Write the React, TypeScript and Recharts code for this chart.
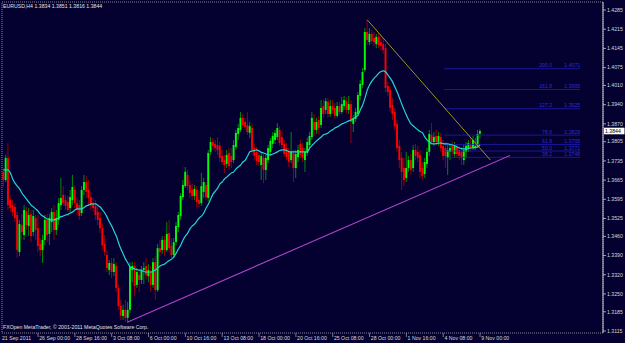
import React from "react";
import { ComposedChart, Bar, Line, XAxis, YAxis, ReferenceLine, ReferenceArea } from "recharts";

// EURUSD H4, 21 Sep 2011 12:00 .. 9 Nov 2011 00:00 (208 bars)
const opens = [
  1.3695, 1.3665, 1.3746, 1.3592, 1.3574, 1.3567, 1.3538, 1.3403, 1.3501, 1.3465,
  1.3552, 1.3498, 1.3541, 1.3476, 1.3527, 1.3490, 1.3432, 1.3410, 1.3447, 1.3520,
  1.3469, 1.3512, 1.3549, 1.3483, 1.3520, 1.3574, 1.3611, 1.3592, 1.3585, 1.3563,
  1.3592, 1.3629, 1.3581, 1.3574, 1.3545, 1.3629, 1.3658, 1.3629, 1.3603, 1.3578,
  1.3571, 1.3549, 1.3527, 1.3490, 1.3432, 1.3392, 1.3337, 1.3363, 1.3330, 1.3352,
  1.3272, 1.3206, 1.3170, 1.3192, 1.3163, 1.3192, 1.3337, 1.3352, 1.3283, 1.3319,
  1.3301, 1.3337, 1.3352, 1.3315, 1.3330, 1.3283, 1.3366, 1.3264, 1.3417, 1.3410,
  1.3447, 1.3410, 1.3472, 1.3425, 1.3392, 1.3439, 1.3494, 1.3534, 1.3603, 1.3643,
  1.3684, 1.3647, 1.3629, 1.3607, 1.3629, 1.3592, 1.3581, 1.3622, 1.3647, 1.3600,
  1.3768, 1.3804, 1.3797, 1.3793, 1.3790, 1.3753, 1.3738, 1.3724, 1.3764, 1.3753,
  1.3738, 1.3786, 1.3833, 1.3848, 1.3892, 1.3877, 1.3866, 1.3837, 1.3855, 1.3782,
  1.3768, 1.3757, 1.3720, 1.3746, 1.3702, 1.3738, 1.3768, 1.3797, 1.3811, 1.3822,
  1.3848, 1.3822, 1.3797, 1.3782, 1.3768, 1.3738, 1.3764, 1.3709, 1.3749, 1.3797,
  1.3782, 1.3738, 1.3764, 1.3793, 1.3822, 1.3877, 1.3848, 1.3884, 1.3866, 1.3935,
  1.3921, 1.3950, 1.3906, 1.3935, 1.3928, 1.3899, 1.3935, 1.3913, 1.3935, 1.3953,
  1.3921, 1.3942, 1.3870, 1.3888, 1.3906, 1.3972, 1.4012, 1.4066, 1.4205, 1.4168,
  1.4198, 1.4183, 1.4161, 1.4187, 1.4168, 1.4161, 1.4146, 1.4008, 1.3993, 1.3939,
  1.3913, 1.3870, 1.3790, 1.3746, 1.3709, 1.3673, 1.3709, 1.3738, 1.3709, 1.3775,
  1.3768, 1.3757, 1.3709, 1.3687, 1.3724, 1.3768, 1.3830, 1.3804, 1.3826, 1.3804,
  1.3822, 1.3790, 1.3782, 1.3746, 1.3768, 1.3790, 1.3760, 1.3786, 1.3775, 1.3768,
  1.3738, 1.3768, 1.3782, 1.3793, 1.3782, 1.3782, 1.3790, 1.3834,
];
const highs = [
  1.3709, 1.3757, 1.3800, 1.3611, 1.3592, 1.3581, 1.3549, 1.3520, 1.3541, 1.3574,
  1.3567, 1.3563, 1.3556, 1.3556, 1.3538, 1.3538, 1.3454, 1.3465, 1.3538, 1.3541,
  1.3541, 1.3563, 1.3574, 1.3556, 1.3600, 1.3673, 1.3643, 1.3611, 1.3607, 1.3629,
  1.3684, 1.3647, 1.3600, 1.3592, 1.3643, 1.3684, 1.3680, 1.3665, 1.3622, 1.3600,
  1.3592, 1.3574, 1.3549, 1.3505, 1.3465, 1.3410, 1.3374, 1.3381, 1.3381, 1.3366,
  1.3283, 1.3228, 1.3210, 1.3228, 1.3221, 1.3366, 1.3366, 1.3366, 1.3345, 1.3337,
  1.3352, 1.3366, 1.3381, 1.3359, 1.3352, 1.3381, 1.3388, 1.3432, 1.3447, 1.3461,
  1.3461, 1.3512, 1.3520, 1.3454, 1.3454, 1.3512, 1.3549, 1.3618, 1.3665, 1.3713,
  1.3702, 1.3665, 1.3651, 1.3647, 1.3643, 1.3629, 1.3691, 1.3673, 1.3658, 1.3775,
  1.3822, 1.3819, 1.3811, 1.3822, 1.3804, 1.3775, 1.3757, 1.3775, 1.3782, 1.3782,
  1.3811, 1.3848, 1.3870, 1.3913, 1.3906, 1.3892, 1.3913, 1.3877, 1.3870, 1.3797,
  1.3786, 1.3775, 1.3768, 1.3760, 1.3757, 1.3793, 1.3819, 1.3840, 1.3848, 1.3873,
  1.3862, 1.3840, 1.3811, 1.3800, 1.3782, 1.3840, 1.3775, 1.3775, 1.3793, 1.3811,
  1.3800, 1.3782, 1.3819, 1.3840, 1.3913, 1.3906, 1.3892, 1.3899, 1.3957, 1.3957,
  1.3964, 1.3964, 1.3957, 1.3957, 1.3946, 1.3950, 1.3950, 1.3968, 1.3972, 1.3968,
  1.3972, 1.3957, 1.3902, 1.3928, 1.3986, 1.4030, 1.4074, 1.4219, 1.4249, 1.4219,
  1.4212, 1.4205, 1.4198, 1.4201, 1.4190, 1.4183, 1.4161, 1.4023, 1.4008, 1.3964,
  1.3928, 1.3884, 1.3811, 1.3768, 1.3746, 1.3768, 1.3753, 1.3760, 1.3793, 1.3797,
  1.3790, 1.3775, 1.3731, 1.3746, 1.3782, 1.3848, 1.3873, 1.3840, 1.3848, 1.3840,
  1.3837, 1.3811, 1.3804, 1.3793, 1.3797, 1.3808, 1.3804, 1.3797, 1.3790, 1.3786,
  1.3793, 1.3804, 1.3811, 1.3819, 1.3826, 1.3819, 1.3848, 1.3851,
];
const lows = [
  1.3643, 1.3658, 1.3556, 1.3549, 1.3534, 1.3512, 1.3381, 1.3388, 1.3447, 1.3447,
  1.3483, 1.3461, 1.3439, 1.3461, 1.3447, 1.3403, 1.3388, 1.3363, 1.3428, 1.3439,
  1.3428, 1.3476, 1.3447, 1.3465, 1.3501, 1.3556, 1.3571, 1.3556, 1.3549, 1.3549,
  1.3574, 1.3563, 1.3538, 1.3520, 1.3534, 1.3611, 1.3600, 1.3574, 1.3556, 1.3549,
  1.3520, 1.3501, 1.3472, 1.3410, 1.3388, 1.3330, 1.3319, 1.3308, 1.3315, 1.3257,
  1.3192, 1.3155, 1.3155, 1.3148, 1.3144, 1.3181, 1.3293, 1.3243, 1.3272, 1.3257,
  1.3286, 1.3286, 1.3301, 1.3293, 1.3257, 1.3272, 1.3228, 1.3257, 1.3388, 1.3396,
  1.3388, 1.3403, 1.3403, 1.3381, 1.3381, 1.3428, 1.3476, 1.3520, 1.3592, 1.3636,
  1.3629, 1.3600, 1.3592, 1.3592, 1.3567, 1.3567, 1.3571, 1.3600, 1.3592, 1.3589,
  1.3757, 1.3775, 1.3768, 1.3757, 1.3731, 1.3720, 1.3691, 1.3709, 1.3702, 1.3709,
  1.3727, 1.3775, 1.3811, 1.3840, 1.3855, 1.3848, 1.3830, 1.3819, 1.3757, 1.3738,
  1.3720, 1.3716, 1.3665, 1.3654, 1.3665, 1.3727, 1.3753, 1.3782, 1.3797, 1.3811,
  1.3790, 1.3782, 1.3749, 1.3738, 1.3713, 1.3727, 1.3658, 1.3673, 1.3731, 1.3746,
  1.3731, 1.3695, 1.3753, 1.3775, 1.3811, 1.3826, 1.3833, 1.3830, 1.3855, 1.3892,
  1.3906, 1.3892, 1.3895, 1.3906, 1.3888, 1.3892, 1.3902, 1.3906, 1.3921, 1.3910,
  1.3906, 1.3800, 1.3840, 1.3877, 1.3899, 1.3957, 1.4001, 1.4059, 1.4157, 1.4157,
  1.4161, 1.4154, 1.4146, 1.4146, 1.4139, 1.4125, 1.3986, 1.3972, 1.3913, 1.3884,
  1.3848, 1.3768, 1.3709, 1.3629, 1.3643, 1.3658, 1.3695, 1.3684, 1.3695, 1.3738,
  1.3731, 1.3673, 1.3665, 1.3673, 1.3709, 1.3753, 1.3793, 1.3790, 1.3793, 1.3790,
  1.3768, 1.3738, 1.3709, 1.3684, 1.3738, 1.3753, 1.3746, 1.3746, 1.3738, 1.3720,
  1.3720, 1.3746, 1.3768, 1.3768, 1.3775, 1.3775, 1.3782, 1.3816,
];
const closes = [
  1.3665, 1.3746, 1.3574, 1.3563, 1.3549, 1.3527, 1.3410, 1.3505, 1.3476, 1.3556,
  1.3501, 1.3538, 1.3461, 1.3534, 1.3483, 1.3425, 1.3410, 1.3447, 1.3520, 1.3465,
  1.3527, 1.3549, 1.3483, 1.3527, 1.3581, 1.3600, 1.3581, 1.3571, 1.3556, 1.3603,
  1.3640, 1.3581, 1.3556, 1.3534, 1.3629, 1.3658, 1.3622, 1.3600, 1.3571, 1.3563,
  1.3538, 1.3520, 1.3490, 1.3428, 1.3403, 1.3345, 1.3363, 1.3330, 1.3359, 1.3272,
  1.3206, 1.3170, 1.3192, 1.3163, 1.3192, 1.3348, 1.3352, 1.3279, 1.3330, 1.3301,
  1.3337, 1.3345, 1.3319, 1.3337, 1.3283, 1.3366, 1.3264, 1.3417, 1.3403, 1.3447,
  1.3410, 1.3469, 1.3417, 1.3392, 1.3439, 1.3498, 1.3538, 1.3607, 1.3647, 1.3695,
  1.3643, 1.3618, 1.3607, 1.3633, 1.3585, 1.3578, 1.3643, 1.3658, 1.3603, 1.3764,
  1.3804, 1.3790, 1.3782, 1.3775, 1.3746, 1.3731, 1.3720, 1.3757, 1.3716, 1.3731,
  1.3793, 1.3837, 1.3855, 1.3892, 1.3866, 1.3859, 1.3840, 1.3862, 1.3775, 1.3753,
  1.3735, 1.3731, 1.3753, 1.3702, 1.3746, 1.3782, 1.3808, 1.3826, 1.3837, 1.3855,
  1.3800, 1.3793, 1.3760, 1.3749, 1.3731, 1.3768, 1.3709, 1.3760, 1.3775, 1.3757,
  1.3746, 1.3768, 1.3804, 1.3826, 1.3892, 1.3848, 1.3877, 1.3855, 1.3928, 1.3906,
  1.3953, 1.3906, 1.3935, 1.3921, 1.3899, 1.3935, 1.3913, 1.3942, 1.3957, 1.3921,
  1.3942, 1.3877, 1.3892, 1.3913, 1.3975, 1.4016, 1.4059, 1.4205, 1.4176, 1.4198,
  1.4172, 1.4168, 1.4187, 1.4157, 1.4154, 1.4139, 1.4001, 1.3986, 1.3928, 1.3906,
  1.3862, 1.3782, 1.3738, 1.3695, 1.3665, 1.3709, 1.3738, 1.3702, 1.3775, 1.3753,
  1.3746, 1.3695, 1.3680, 1.3731, 1.3768, 1.3833, 1.3804, 1.3822, 1.3804, 1.3826,
  1.3782, 1.3753, 1.3753, 1.3775, 1.3782, 1.3768, 1.3790, 1.3760, 1.3753, 1.3746,
  1.3775, 1.3790, 1.3800, 1.3782, 1.3811, 1.3790, 1.3833, 1.3844,
];
// moving average (cyan)
const maValues = [
  1.3702, 1.3702, 1.3702, 1.3691, 1.3669, 1.3654, 1.3643, 1.3633, 1.3618, 1.3607,
  1.3596, 1.3585, 1.3574, 1.3567, 1.3560, 1.3552, 1.3541, 1.3534, 1.3529, 1.3523,
  1.3521, 1.3520, 1.3520, 1.3523, 1.3527, 1.3532, 1.3534, 1.3538, 1.3540, 1.3545,
  1.3549, 1.3556, 1.3560, 1.3560, 1.3560, 1.3565, 1.3571, 1.3574, 1.3578, 1.3578,
  1.3578, 1.3573, 1.3567, 1.3556, 1.3545, 1.3530, 1.3512, 1.3498, 1.3479, 1.3461,
  1.3436, 1.3414, 1.3396, 1.3377, 1.3363, 1.3348, 1.3345, 1.3341, 1.3339, 1.3337,
  1.3336, 1.3332, 1.3330, 1.3330, 1.3330, 1.3334, 1.3337, 1.3345, 1.3352, 1.3356,
  1.3359, 1.3366, 1.3372, 1.3377, 1.3385, 1.3399, 1.3414, 1.3428, 1.3447, 1.3461,
  1.3472, 1.3487, 1.3498, 1.3505, 1.3516, 1.3527, 1.3534, 1.3545, 1.3563, 1.3578,
  1.3596, 1.3614, 1.3625, 1.3636, 1.3651, 1.3658, 1.3669, 1.3676, 1.3684, 1.3691,
  1.3695, 1.3706, 1.3713, 1.3720, 1.3731, 1.3738, 1.3753, 1.3768, 1.3771, 1.3773,
  1.3775, 1.3771, 1.3766, 1.3764, 1.3760, 1.3757, 1.3757, 1.3760, 1.3764, 1.3768,
  1.3773, 1.3775, 1.3775, 1.3773, 1.3769, 1.3768, 1.3768, 1.3768, 1.3768, 1.3768,
  1.3768, 1.3768, 1.3768, 1.3782, 1.3791, 1.3800, 1.3808, 1.3815, 1.3822, 1.3830,
  1.3833, 1.3837, 1.3844, 1.3849, 1.3855, 1.3859, 1.3864, 1.3870, 1.3873, 1.3877,
  1.3881, 1.3884, 1.3888, 1.3895, 1.3902, 1.3921, 1.3939, 1.3964, 1.3993, 1.4012,
  1.4026, 1.4037, 1.4045, 1.4055, 1.4061, 1.4063, 1.4059, 1.4048, 1.4037, 1.4023,
  1.4004, 1.3986, 1.3964, 1.3942, 1.3921, 1.3902, 1.3884, 1.3870, 1.3862, 1.3855,
  1.3848, 1.3842, 1.3837, 1.3822, 1.3811, 1.3804, 1.3798, 1.3797, 1.3798, 1.3800,
  1.3800, 1.3798, 1.3797, 1.3797, 1.3795, 1.3793, 1.3790, 1.3786, 1.3782, 1.3780,
  1.3779, 1.3779, 1.3780, 1.3782, 1.3782, 1.3784, 1.3786, 1.3793,
];

const timeLabels = [
  "21 Sep 2011", "26 Sep 00:00", "28 Sep 16:00", "3 Oct 08:00", "6 Oct 00:00",
  "10 Oct 16:00", "13 Oct 08:00", "18 Oct 00:00", "20 Oct 16:00", "25 Oct 08:00",
  "28 Oct 00:00", "1 Nov 16:00", "4 Nov 08:00", "9 Nov 00:00",
];
const timeLabelBars = [0, 15, 31, 47, 63, 79, 95, 111, 127, 143, 159, 175, 191, 207];

const priceTicks = [
  1.4285, 1.4215, 1.4145, 1.4075, 1.401, 1.394, 1.387, 1.3805, 1.3735,
  1.3665, 1.3595, 1.3525, 1.346, 1.339, 1.332, 1.325, 1.3185, 1.3115,
];

const fibLevels = ["200.0", "161.8", "127.2", "78.6", "61.8", "50.0", "38.2"];
const fibPrices = [1.4071, 1.3995, 1.3925, 1.3829, 1.3795, 1.3771, 1.3748];
const fibBars = [191.5, 250.5];

// trend lines: [bar, price] pairs
const supportLine = [[54, 1.3148], [220, 1.3755]];
const resistLine = [[158, 1.4249], [211.5, 1.3738]];

const lastPrice = 1.3844;
const title = "EURUSD,H4  1.3834 1.3851 1.3816 1.3844";
const footer = "FXOpen MetaTrader, \u00a9 2001-2011 MetaQuotes Software Corp.";

const X_DOMAIN = [-0.65, 260.4];
const Y_DOMAIN = [1.31077, 1.43142];
const FONT = "'Liberation Sans', Arial, sans-serif";
const BG = "#040030";

const rows = opens.map((o, i) => ({
  i,
  o,
  h: highs[i],
  l: lows[i],
  c: closes[i],
  ma: maValues[i],
}));

const Candle = (props: any) => {
  const { x, y, width, height, payload } = props;
  if (!payload) return null;
  const { o, h, l, c } = payload;
  const top0 = Math.min(y, y + height);
  const hgt = Math.abs(height);
  const cx = x + width / 2;
  const k = h - l > 0 ? hgt / (h - l) : 0;
  const bTop = top0 + (h - Math.max(o, c)) * k;
  const bBot = top0 + (h - Math.min(o, c)) * k;
  const up = c >= o;
  return (
    <g>
      <line x1={cx} x2={cx} y1={top0} y2={top0 + hgt} stroke={up ? "#00a800" : "#b80000"} strokeWidth={0.8} />
      <rect x={cx - 0.95} y={bTop} width={1.9} height={Math.max(bBot - bTop, 0.7)} fill={up ? "#00ff00" : "#ff0000"} />
    </g>
  );
};

const YTick = (props: any) => {
  const { x, y, payload } = props;
  return (
    <text x={x} y={y + 1.8} fontSize={5.2} fontFamily={FONT} fill="#d8d8d8">
      {Number(payload.value).toFixed(4)}
    </text>
  );
};

const XTick = (props: any) => {
  const { x, y, payload } = props;
  const idx = timeLabelBars.indexOf(payload.value);
  const first = idx === 0;
  return (
    <g>
      {!first && <line x1={x} x2={x} y1={y - 3} y2={y + 1} stroke="#c8c8c8" strokeWidth={0.6} />}
      <text x={first ? x - 1.5 : x + 1.2} y={y + 4.3} fontSize={5.2} fontFamily={FONT} fill="#d8d8d8">
        {timeLabels[idx]}
      </text>
    </g>
  );
};

const FibLabel = (props: any) => {
  const { viewBox, level, price } = props;
  if (!viewBox) return null;
  const right = viewBox.x + viewBox.width;
  return (
    <g fontSize={5.2} fontFamily={FONT} fill="#2c2cd8">
      <text x={right - 28} y={viewBox.y - 1.4} textAnchor="end">{level}</text>
      <text x={right} y={viewBox.y - 1.4} textAnchor="end">{price}</text>
    </g>
  );
};

const PriceTag = (props: any) => {
  const { viewBox } = props;
  if (!viewBox) return null;
  const right = viewBox.x + viewBox.width;
  return (
    <g>
      <rect x={right + 1} y={viewBox.y - 3.3} width={20.5} height={6.6} fill="#ffffff" />
      <text x={right + 2} y={viewBox.y + 1.9} fontSize={5.2} fontFamily={FONT} fill="#000000">
        {lastPrice.toFixed(4)}
      </text>
    </g>
  );
};

export default function App() {
  return (
    <div style={{ position: "absolute", left: 0, top: 0, width: 625, height: 343, background: BG }}>
      <ComposedChart width={625} height={343} data={rows} margin={{ top: 2, right: 0, bottom: 0, left: 2 }}>
        <XAxis
          dataKey="i"
          type="number"
          domain={X_DOMAIN}
          allowDataOverflow
          ticks={timeLabelBars}
          interval={0}
          height={10}
          tickSize={3}
          tickMargin={0}
          tickLine={false}
          axisLine={false}
          tick={<XTick />}
        />
        <YAxis
          orientation="right"
          type="number"
          domain={Y_DOMAIN}
          allowDataOverflow
          ticks={priceTicks}
          interval={0}
          width={22}
          tickSize={3}
          tickMargin={1}
          axisLine={{ stroke: "#c8c8c8", strokeWidth: 1 }}
          tickLine={{ stroke: "#c8c8c8", strokeWidth: 0.8 }}
          tick={<YTick />}
        />
        <ReferenceArea
          x1={X_DOMAIN[0]}
          x2={X_DOMAIN[1]}
          y1={Y_DOMAIN[0]}
          y2={Y_DOMAIN[1]}
          fill="none"
          stroke="#a8a8a8"
          strokeDasharray="1 1"
          strokeWidth={0.8}
        />
        {fibPrices.map((p, k) => (
          <ReferenceLine
            key={`fib-${k}`}
            segment={[{ x: fibBars[0], y: p }, { x: fibBars[1], y: p }]}
            stroke="#1e1eb4"
            strokeWidth={0.8}
            label={<FibLabel level={fibLevels[k]} price={p.toFixed(4)} />}
          />
        ))}
        <Bar dataKey={(d: any) => [d.l, d.h]} barSize={2} shape={<Candle />} isAnimationActive={false} />
        <Line dataKey="ma" type="monotone" stroke="#22d6d6" strokeWidth={1.2} dot={false} activeDot={false} isAnimationActive={false} />
        <ReferenceLine
          segment={[{ x: supportLine[0][0], y: supportLine[0][1] }, { x: supportLine[1][0], y: supportLine[1][1] }]}
          stroke="#b044c8"
          strokeWidth={1.1}
        />
        <ReferenceLine
          segment={[{ x: resistLine[0][0], y: resistLine[0][1] }, { x: resistLine[1][0], y: resistLine[1][1] }]}
          stroke="#a8a818"
          strokeWidth={0.9}
        />
        <ReferenceLine y={lastPrice} stroke="none" label={<PriceTag />} />
      </ComposedChart>
      <svg width={625} height={343} style={{ position: "absolute", left: 0, top: 0, pointerEvents: "none" }}>
        <text x={3} y={7.6} fontSize={5.2} fontFamily={FONT} fill="#e0e0e0">{title}</text>
        <text x={3} y={328.6} fontSize={5.2} fontFamily={FONT} fill="#e0e0e0">{footer}</text>
      </svg>
    </div>
  );
}
